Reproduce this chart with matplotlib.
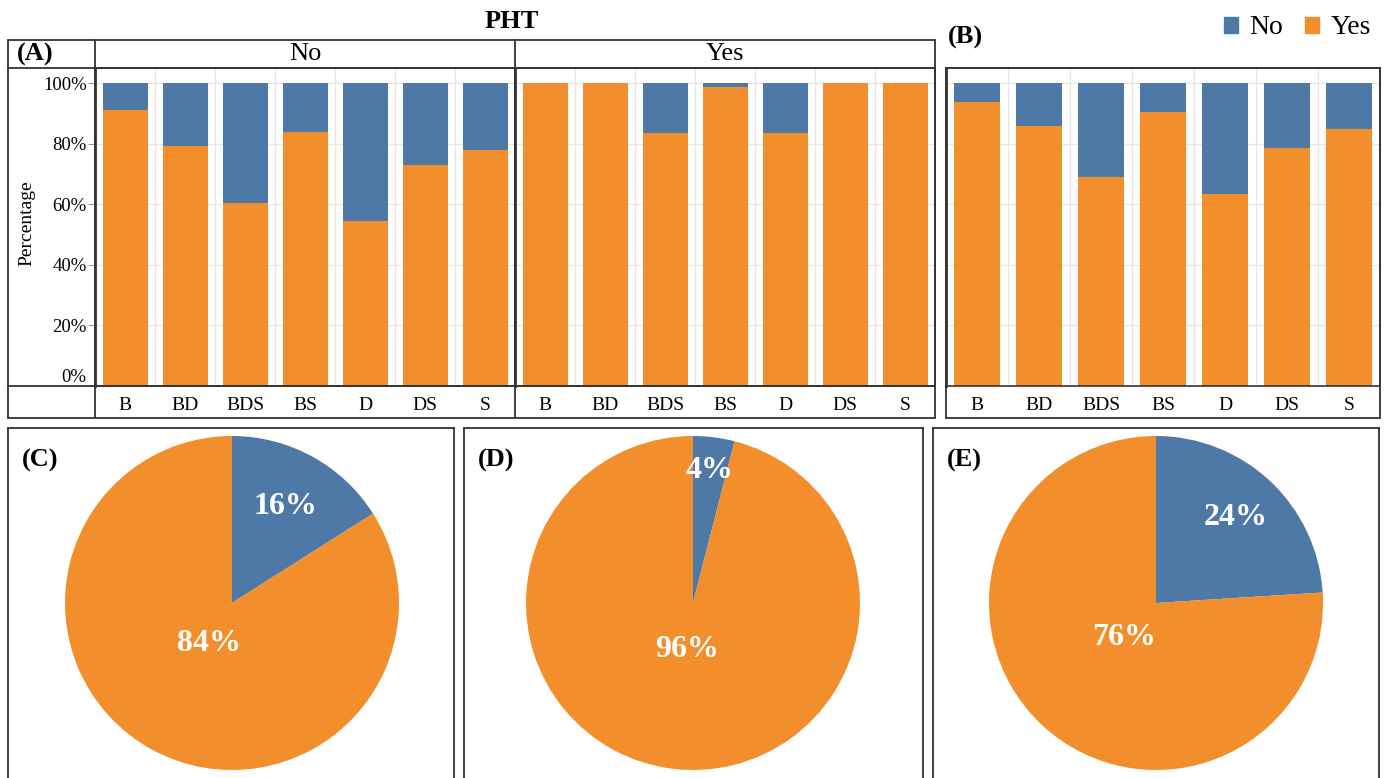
import numpy as np
import matplotlib.pyplot as plt
from matplotlib.patches import Rectangle
from matplotlib.lines import Line2D

plt.rcParams['font.family'] = ['Liberation Serif', 'DejaVu Serif']

W, H = 1386, 778
BLUE = '#4E79A7'
ORANGE = '#F28E2B'
GRID = '#E6E6E6'
EDGE = '#333333'

groups = ['B', 'BD', 'BDS', 'BS', 'D', 'DS', 'S']
facets = ['No', 'Yes']
# share of "Yes" (orange) per group, rest is "No"
a_no_yes = [91.1, 79.3, 60.4, 83.9, 54.4, 73.1, 77.8]
a_yes_yes = [100, 100, 83.5, 98.7, 83.5, 100, 100]
b_yes = [93.8, 85.7, 69.0, 90.5, 63.4, 78.7, 84.9]

pie_tags = ['(C)', '(D)', '(E)']
pie_no = [16, 4, 24]
pie_yes = [84, 96, 76]

fig = plt.figure(figsize=(W / 100, H / 100), dpi=100)


def px(x0, y0, x1, y1):
    # pixel box (y from top) -> figure fraction rect
    return [x0 / W, 1 - y1 / H, (x1 - x0) / W, (y1 - y0) / H]


def fline(xs, ys, lw=1.3):
    fig.add_artist(Line2D([x / W for x in xs], [1 - y / H for y in ys],
                          color=EDGE, lw=lw))


def bars(rect, yes_vals, ylabels=False):
    ax = fig.add_axes(rect)
    x = np.arange(len(groups))
    yes = np.array(yes_vals)
    ax.bar(x, yes, width=0.75, color=ORANGE, zorder=2)
    ax.bar(x, 100 - yes, bottom=yes, width=0.75, color=BLUE, zorder=2)
    ax.set_xlim(-0.5, len(groups) - 0.5)
    ax.set_ylim(0, 105)
    ax.set_yticks(range(0, 101, 20))
    ax.set_xticks(x)
    ax.set_xticklabels(groups, fontsize=14)
    ax.set_xticks(np.arange(-0.5, len(groups), 1), minor=True)
    ax.grid(which='minor', axis='x', color=GRID, lw=0.9, zorder=0)
    ax.grid(which='major', axis='y', color=GRID, lw=0.9, zorder=0)
    ax.tick_params(axis='x', which='both', length=0, pad=8)
    if ylabels:
        labs = ax.set_yticklabels([f'{v}%' for v in range(0, 101, 20)], fontsize=13.5)
        labs[0].set_va('bottom')
        ax.tick_params(axis='y', length=5, color='#999999', pad=1)
    else:
        ax.tick_params(axis='y', length=0, labelleft=False)
    for s in ax.spines.values():
        s.set_color(EDGE)
        s.set_linewidth(1.2)
    ax.spines['left'].set_linewidth(2)
    ax.set_axisbelow(True)
    return ax


# panel A
bars(px(95, 68, 515, 386), a_no_yes, ylabels=True)
bars(px(515, 68, 935, 386), a_yes_yes)
fig.add_artist(Rectangle((8 / W, 1 - 418 / H), (935 - 8) / W, (418 - 40) / H,
                         fill=False, ec=EDGE, lw=1.3))
fline([8, 935], [68, 68])
fline([8, 935], [386, 386])
fline([95, 95], [40, 418])
fline([515, 515], [40, 418])
fig.text(17 / W, 1 - 54 / H, '(A)', fontsize=19, fontweight='bold', va='center')
for name, cx in zip(facets, [305, 725]):
    fig.text(cx / W, 1 - 54 / H, name, fontsize=19, ha='center', va='center')
fig.text(512 / W, 1 - 22 / H, 'PHT', fontsize=19, fontweight='bold',
         ha='center', va='center')
fig.text(27 / W, 1 - 223 / H, 'Percentage', fontsize=14, rotation=90,
         ha='center', va='center')

# panel B
bars(px(946, 68, 1380, 386), b_yes)
fig.add_artist(Rectangle((946 / W, 1 - 418 / H), (1380 - 946) / W, (418 - 68) / H,
                         fill=False, ec=EDGE, lw=1.3))
fig.text(948 / W, 1 - 37 / H, '(B)', fontsize=19, fontweight='bold', va='center')

handles = [Rectangle((0, 0), 1, 1, color=BLUE), Rectangle((0, 0), 1, 1, color=ORANGE)]
fig.legend(handles, facets, loc='upper right', bbox_to_anchor=(1390 / W, 1 + 4 / H),
           ncol=2, frameon=False, fontsize=20, handlelength=0.5, handleheight=0.5,
           handletextpad=0.4, columnspacing=0.8, borderpad=0.2)

# pies C, D, E
frames = [(8, 454), (464, 923), (933, 1379)]
centers = [232, 693, 1156]
no_dist = [0.66, 0.8, 0.7]
cy, r = 603, 167
for tag, (fx0, fx1), cx, n, y, dn in zip(pie_tags, frames, centers, pie_no, pie_yes, no_dist):
    fa = fig.add_axes(px(fx0, 428, fx1, 800))
    fa.set_xticks([])
    fa.set_yticks([])
    for s in fa.spines.values():
        s.set_color(EDGE)
        s.set_linewidth(1.3)
    fig.text((fx0 + 14) / W, 1 - 460 / H, tag, fontsize=19, fontweight='bold',
             va='center')

    pa = fig.add_axes(px(cx - r, cy - r, cx + r, cy + r))
    wedges, _ = pa.pie([n, y], colors=[BLUE, ORANGE], startangle=90,
                       counterclock=False, radius=1)
    pa.set_xlim(-1, 1)
    pa.set_ylim(-1, 1)
    pa.axis('off')
    for w, val, d in zip(wedges, [n, y], [dn, 0.28]):
        mid = np.deg2rad((w.theta1 + w.theta2) / 2)
        pa.text(d * np.cos(mid), d * np.sin(mid), f'{val}%', color='white',
                fontsize=23, fontweight='bold', ha='center', va='center')

fig.savefig('out.png', dpi=100)
